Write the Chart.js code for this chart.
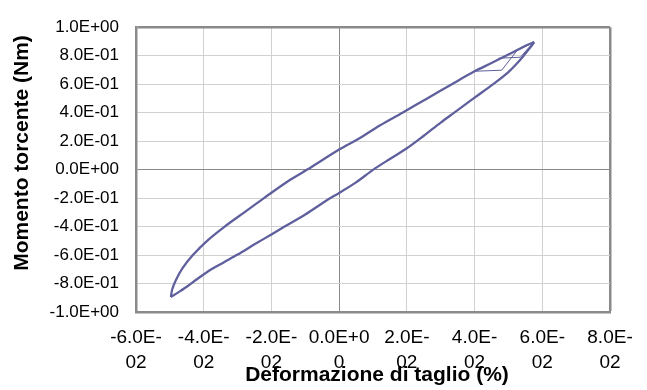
<!DOCTYPE html>
<html>
<head>
<meta charset="utf-8">
<script src="https://cdn.jsdelivr.net/npm/chart.js@4/dist/chart.umd.min.js"></script>
<style>
  html, body { margin: 0; padding: 0; background: #ffffff; }
  #wrap { width: 647px; height: 390px; }
</style>
</head>
<body>
<div id="wrap"><canvas id="c" width="647" height="390"></canvas></div>
<script>
// ---- Data ----
// Lower branch: loading from the negative tip up to the positive tip
const loadX = [-0.0497, -0.0475, -0.0450, -0.0420, -0.0381, -0.0340, -0.0300, -0.0250, -0.0200, -0.0161,
               -0.0100, -0.0033, 0.0000, 0.0050, 0.0101, 0.0150, 0.0200, 0.0250, 0.0300, 0.0340,
               0.0400, 0.0455, 0.0500, 0.0525, 0.0545, 0.0560, 0.0570, 0.0576];
const loadY = [-0.895, -0.862, -0.823, -0.770, -0.705, -0.650, -0.597, -0.525, -0.455, -0.400,
               -0.315, -0.210, -0.164, -0.090, 0.000, 0.075, 0.150, 0.238, 0.330, 0.400,
               0.505, 0.600, 0.685, 0.745, 0.800, 0.845, 0.875, 0.895];
// Upper branch: unloading from the positive tip back to the negative tip
const unloadX = [0.0576, 0.0555, 0.0530, 0.0500, 0.0450, 0.0400, 0.0333, 0.0260, 0.0187, 0.0120,
                 0.0060, 0.0000, -0.0094, -0.0150, -0.0222, -0.0280, -0.0338, -0.0390, -0.0432, -0.0462,
                 -0.0482, -0.0493, -0.0497];
const unloadY = [0.895, 0.875, 0.845, 0.808, 0.748, 0.690, 0.600, 0.500, 0.400, 0.310,
                 0.220, 0.141, 0.000, -0.080, -0.200, -0.300, -0.400, -0.500, -0.600, -0.690,
                 -0.775, -0.840, -0.895];
// Small initial cycles near the positive tip
const cycle1X = [0.0405, 0.0480, 0.0525, 0.0576];
const cycle1Y = [0.691, 0.698, 0.835, 0.895];
const cycle2X = [0.0470, 0.0535, 0.0556, 0.0576];
const cycle2Y = [0.782, 0.789, 0.845, 0.895];

const xTickLabels = [["-6.0E-", "02"], ["-4.0E-", "02"], ["-2.0E-", "02"], ["0.0E+0", "0"],
                     ["2.0E-", "02"], ["4.0E-", "02"], ["6.0E-", "02"], ["8.0E-", "02"]];
const yTickLabels = ["-1.0E+00", "-8.0E-01", "-6.0E-01", "-4.0E-01", "-2.0E-01", "0.0E+00",
                     "2.0E-01", "4.0E-01", "6.0E-01", "8.0E-01", "1.0E+00"];
const xTitle = "Deformazione di taglio (%)";
const yTitle = "Momento torcente (Nm)";

function pts(xs, ys) { return xs.map((x, i) => ({ x: x, y: ys[i] })); }

const LINE = '#5f5f9d';
const GRID = '#d0d0d0';
const AXIS0 = '#8a8a8a';
const BORDER = '#8a8a8a';
const FONT = '"Liberation Sans", Arial, sans-serif';

const titlePlugin = {
  id: 'titles',
  afterDraw(chart) {
    const ctx = chart.ctx;
    ctx.save();
    ctx.fillStyle = '#000';
    ctx.font = 'bold 21px ' + FONT;
    ctx.textAlign = 'center';
    ctx.textBaseline = 'middle';
    ctx.fillText(xTitle, 377, 375);
    ctx.translate(22, 153);
    ctx.rotate(-Math.PI / 2);
    ctx.fillText(yTitle, 0, 0);
    ctx.restore();
  }
};

const mainStyle = { showLine: true, borderColor: LINE, borderWidth: 2.3, pointRadius: 0, tension: 0.3, fill: false };
const thinStyle = { showLine: true, borderColor: LINE, borderWidth: 1, pointRadius: 0, tension: 0, fill: false };

new Chart(document.getElementById('c'), {
  type: 'scatter',
  data: {
    datasets: [
      Object.assign({ data: pts(loadX, loadY) }, mainStyle),
      Object.assign({ data: pts(unloadX, unloadY) }, mainStyle),
      Object.assign({ data: pts(cycle1X, cycle1Y) }, thinStyle),
      Object.assign({ data: pts(cycle2X, cycle2Y) }, thinStyle)
    ]
  },
  options: {
    responsive: false,
    animation: false,
    devicePixelRatio: 1,
    layout: { padding: { top: 16, right: 37, left: 0, bottom: 0 } },
    plugins: { legend: { display: false }, tooltip: { enabled: false } },
    scales: {
      x: {
        type: 'linear', min: -0.06, max: 0.08,
        afterFit(s) { s.height = 78; },
        ticks: {
          stepSize: 0.02, autoSkip: false, maxRotation: 0, minRotation: 0,
          padding: 13, color: '#000',
          font: { family: FONT, size: 19, lineHeight: 1.32 },
          callback: (v, i) => xTickLabels[i]
        },
        grid: {
          drawTicks: false,
          color: (c) => (c.tick && Math.abs(c.tick.value) < 1e-9) ? AXIS0 : (c.index === 7 ? BORDER : GRID),
          lineWidth: (c) => c.index === 7 ? 2.5 : 1
        },
        border: { display: true, color: BORDER, width: 2.5 }
      },
      y: {
        type: 'linear', min: -1, max: 1,
        afterFit(s) { s.width = 136; },
        ticks: {
          stepSize: 0.2, padding: 17, color: '#000',
          font: { family: FONT, size: 17 },
          callback: (v, i) => yTickLabels[i]
        },
        grid: {
          drawTicks: false,
          color: (c) => (c.tick && Math.abs(c.tick.value) < 1e-9) ? AXIS0 : (c.index === 10 ? BORDER : GRID),
          lineWidth: (c) => c.index === 10 ? 2.5 : 1
        },
        border: { display: true, color: BORDER, width: 2.5 }
      }
    }
  },
  plugins: [titlePlugin]
});
</script>
</body>
</html>
